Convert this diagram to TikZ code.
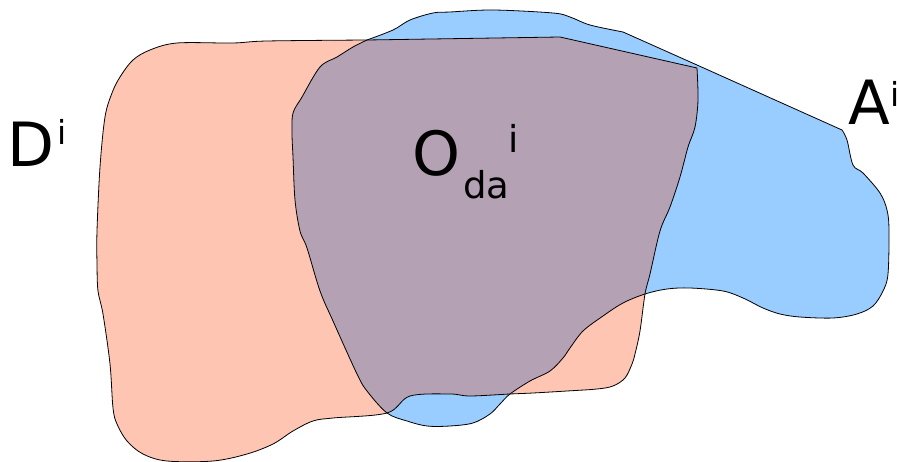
\documentclass[tikz,border=0pt]{standalone}
\usepackage{fontspec}
\setmainfont{DejaVu Sans}
\definecolor{pinkD}{HTML}{FFC5B3}
\definecolor{blueA}{HTML}{99CCFF}
\definecolor{overlapC}{HTML}{B5A1B4}
\newcommand\pinkshape{plot[smooth,tension=0.55] coordinates {(367,40) (267,41) (233,43) (177,43) (150,50) (133,60) (120,77) (112,93) (105,117) (100,167) (97,231) (97,264) (98,291) (103,314) (110,364) (113,408) (117,424) (127,441) (143,454) (167,461) (213,461) (247,454) (273,444) (293,431) (313,421) (333,418) (387,413) (410,396) (450,394) (470,396) (510,394) (533,393) (567,391) (597,389) (613,386) (625,378) (632,364) (635,354) (640,331) (645,294) (650,274) (660,231) (670,207) (680,177) (688,147) (695,127) (698,100) (697,68)} -- (560,37) -- cycle}
\newcommand\blueshape{plot[smooth,tension=0.55] coordinates {(367,40) (393,30) (410,20) (433,13) (450,12) (493,10) (553,13) (570,17) (590,25) (623,32)} -- (697,65) -- plot[smooth,tension=0.55] coordinates {(842,130) (847,140) (853,165) (863,173) (880,193) (887,210) (889,230) (888,274) (883,291) (873,306) (857,314) (833,318) (800,317) (780,314) (763,308) (743,298) (723,291) (690,288) (667,289) (645,294) (623,303) (603,316) (583,331) (570,348) (563,358) (550,371) (530,381) (510,394) (500,404) (490,414) (473,423) (450,426) (427,426) (407,421) (387,413) (367,391) (357,374) (333,321) (320,291) (307,248) (300,231) (295,200) (293,157) (292,133) (293,113) (302,97) (320,67) (337,57) (353,47) (367,40)} -- cycle}
\tikzset{
  outline/.style={draw=black, line width=0.8pt, line join=round},
  lbl/.style={inner sep=0pt, anchor=base west, text=black},
  big/.style={lbl, font=\fontsize{61}{62}\selectfont},
  medscript/.style={lbl, font=\fontsize{37}{38}\selectfont},
  smallscript/.style={lbl, font=\fontsize{33}{34}\selectfont}
}
\begin{document}
\begin{tikzpicture}[x=1pt,y=-1pt]
\useasboundingbox (0,0) rectangle (897,462);
\fill[blueA] \blueshape;
\fill[pinkD] \pinkshape;
\begin{scope}
  \clip \pinkshape;
  \fill[overlapC] \blueshape;
\end{scope}
\path[outline] \blueshape;
\path[outline] \pinkshape;
\node[big] (D) at (7,167) {D};
\node[smallscript] (Di) at (57,145) {i};
\node[big] (O) at (412,176) {O};
\node[medscript] (Oda) at (463,199) {da};
\node[medscript] (Oi) at (508.5,153) {i};
\node[big] (A) at (848,125) {A};
\node[smallscript] (Ai) at (890,107) {i};
\end{tikzpicture}
\end{document}
